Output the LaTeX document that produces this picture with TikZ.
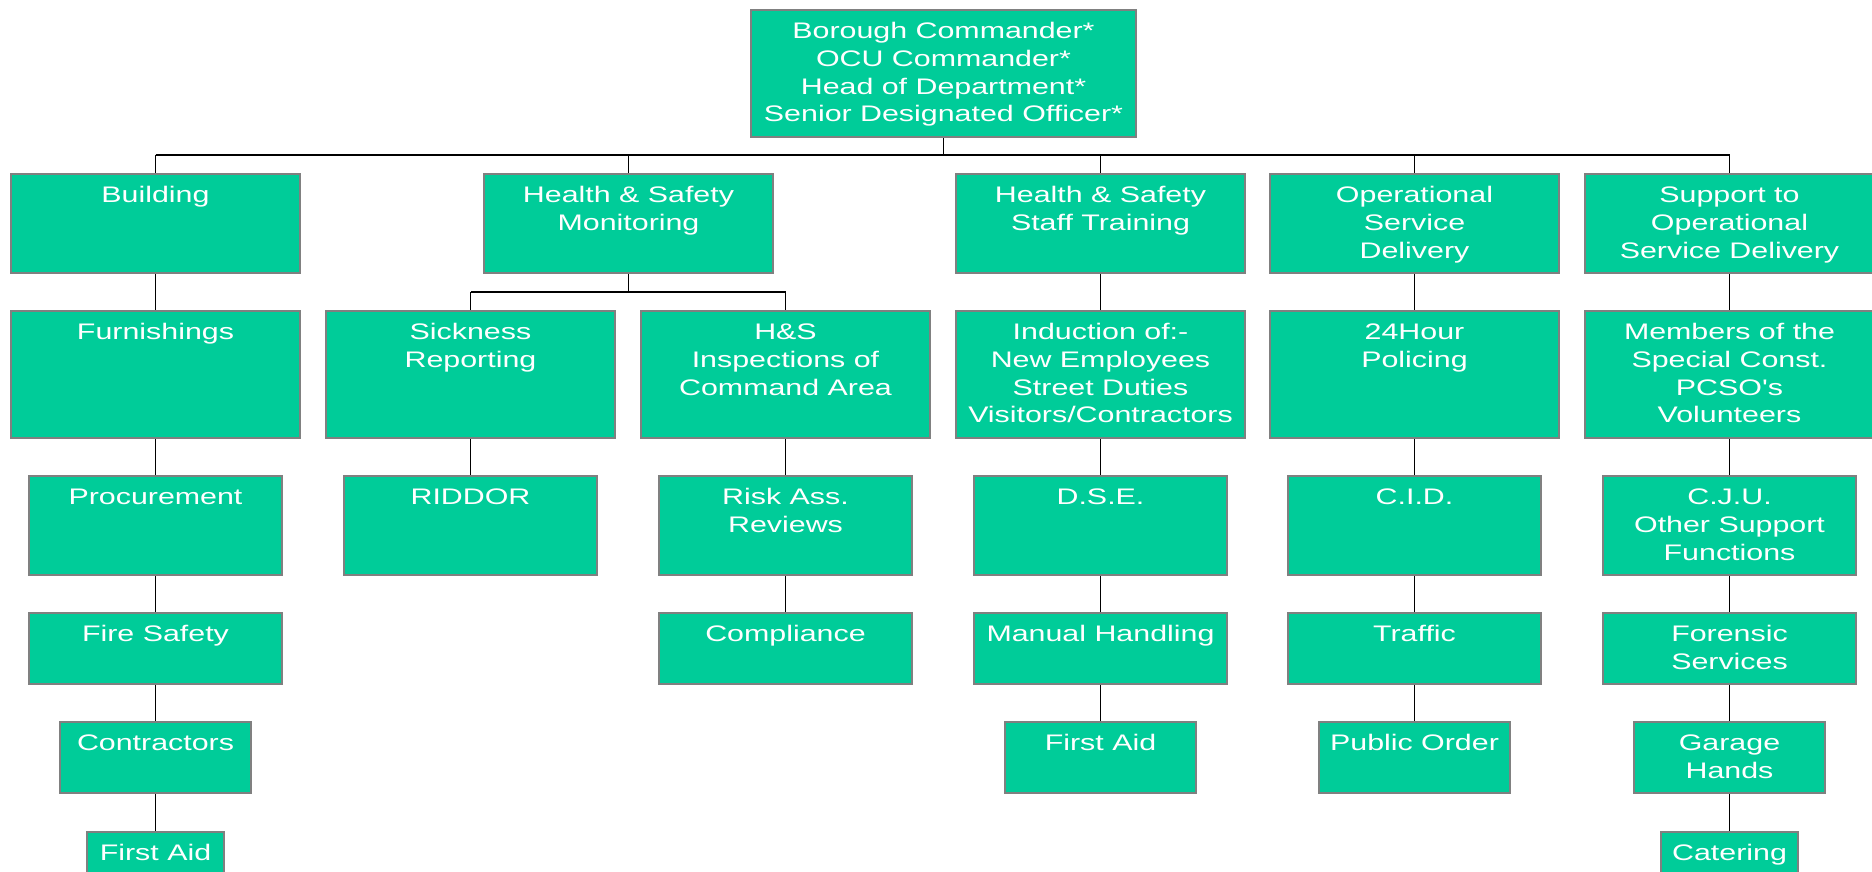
\documentclass[tikz,border=0pt]{standalone}
\usepackage{fontspec}
\setmainfont{Liberation Sans}[FakeStretch=1.35,Ligatures=TeXOff]
\usetikzlibrary{backgrounds}
\definecolor{boxfill}{RGB}{0,204,153}
\definecolor{boxline}{RGB}{128,128,128}
\newcommand\orgbox[6]{%
  \node[obox, minimum width=#4pt, minimum height=#5pt, anchor=north] (#1) at (#2,#3)
    {\parbox[c][#5pt][t]{#4pt}{\centering\rule{0pt}{28.5pt}#6}};}
\begin{document}
\begin{tikzpicture}[x=1pt,y=-1pt,
  obox/.style={draw=boxline, line width=2pt, fill=boxfill, inner sep=0pt, outer sep=0pt,
    text=white, font=\fontsize{22.5}{27.8}\selectfont},
  conn/.style={draw=black, line width=1.8pt}]
\useasboundingbox (0,0) rectangle (1872,872);
\coordinate (bus) at (0,155);
\coordinate (sbus) at (0,292);
% top
\orgbox{top}{943.5}{10}{385}{127}{Borough Commander*\\OCU Commander*\\Head of Department*\\Senior Designated Officer*}
% row 1
\orgbox{building}{155.5}{174}{289}{99}{Building}
\orgbox{hsm}{628.5}{174}{289}{99}{Health \& Safety\\Monitoring}
\orgbox{hst}{1100.5}{174}{289}{99}{Health \& Safety\\Staff Training}
\orgbox{osd}{1414.5}{174}{289}{99}{Operational\\Service\\Delivery}
\orgbox{sosd}{1729.5}{174}{289}{99}{Support to\\Operational\\Service Delivery}
% row 2
\orgbox{furn}{155.5}{311}{289}{127}{Furnishings}
\orgbox{sick}{470.5}{311}{289}{127}{Sickness\\Reporting}
\orgbox{hsi}{785.5}{311}{289}{127}{H\&S\\Inspections of\\Command Area}
\orgbox{induct}{1100.5}{311}{289}{127}{Induction of:-\\New Employees\\Street Duties\\Visitors/Contractors}
\orgbox{police}{1414.5}{311}{289}{127}{24Hour\\Policing}
\orgbox{members}{1729.5}{311}{289}{127}{Members of the\\Special Const.\\PCSO's\\Volunteers}
% row 3
\orgbox{proc}{155.5}{476}{253}{99}{Procurement}
\orgbox{riddor}{470.5}{476}{253}{99}{RIDDOR}
\orgbox{risk}{785.5}{476}{253}{99}{Risk Ass.\\Reviews}
\orgbox{dse}{1100.5}{476}{253}{99}{D.S.E.}
\orgbox{cid}{1414.5}{476}{253}{99}{C.I.D.}
\orgbox{cju}{1729.5}{476}{253}{99}{C.J.U.\\Other Support\\Functions}
% row 4
\orgbox{fire}{155.5}{613}{253}{71}{Fire Safety}
\orgbox{compl}{785.5}{613}{253}{71}{Compliance}
\orgbox{manual}{1100.5}{613}{253}{71}{Manual Handling}
\orgbox{traffic}{1414.5}{613}{253}{71}{Traffic}
\orgbox{forensic}{1729.5}{613}{253}{71}{Forensic\\Services}
% row 5
\orgbox{contr}{155.5}{722}{191}{71}{Contractors}
\orgbox{aidb}{1100.5}{722}{191}{71}{First Aid}
\orgbox{order}{1414.5}{722}{191}{71}{Public Order}
\orgbox{garage}{1729.5}{722}{191}{71}{Garage\\Hands}
% row 6
\orgbox{aida}{155.5}{832}{137}{60}{First Aid}
\orgbox{cater}{1729.5}{832}{137}{60}{Catering}
% connectors
\begin{scope}[on background layer]
\draw[conn] (top.south) -- (top.south |- bus);
\draw[conn] (building.north |- bus) -- (sosd.north |- bus);
\foreach \n in {building,hsm,hst,osd,sosd} \draw[conn] (\n.north |- bus) -- (\n.north);
\draw[conn] (hsm.south) -- (hsm.south |- sbus);
\draw[conn] (sick.north |- sbus) -- (hsi.north |- sbus);
\foreach \n in {sick,hsi} \draw[conn] (\n.north |- sbus) -- (\n.north);
\draw[conn] (building) -- (furn) -- (proc) -- (fire) -- (contr) -- (aida);
\draw[conn] (sick) -- (riddor);
\draw[conn] (hsi) -- (risk) -- (compl);
\draw[conn] (hst) -- (induct) -- (dse) -- (manual) -- (aidb);
\draw[conn] (osd) -- (police) -- (cid) -- (traffic) -- (order);
\draw[conn] (sosd) -- (members) -- (cju) -- (forensic) -- (garage) -- (cater);
\end{scope}
\end{tikzpicture}
\end{document}
